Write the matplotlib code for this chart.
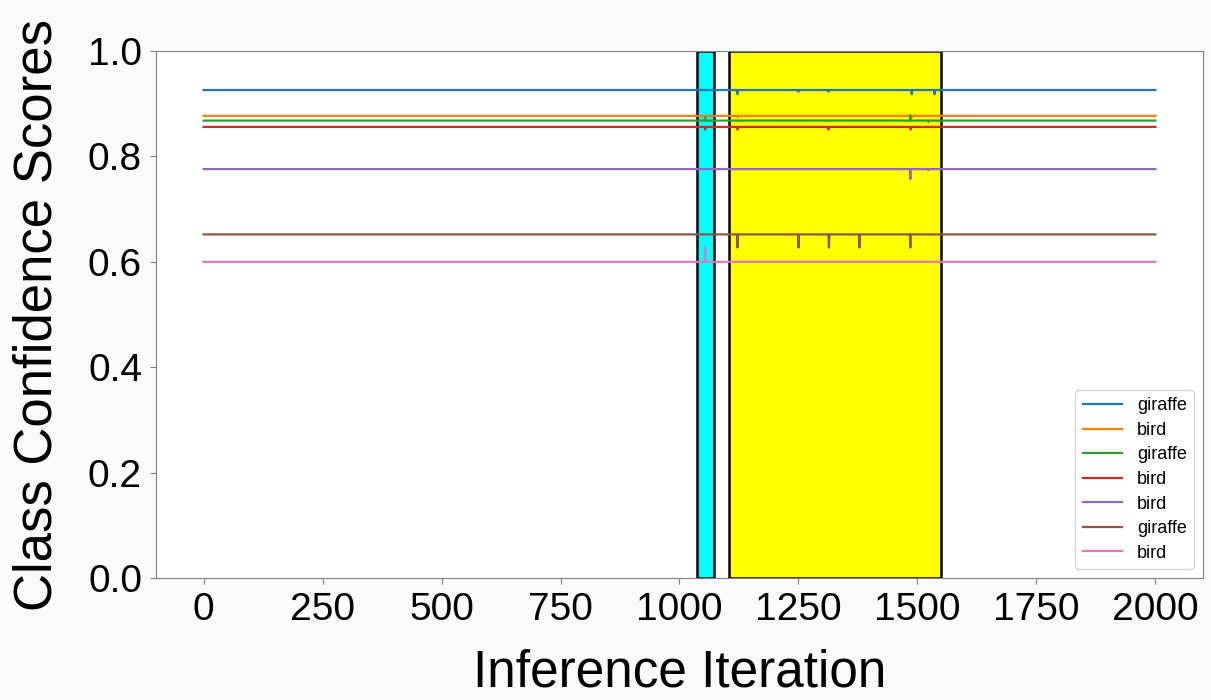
import matplotlib.pyplot as plt
import numpy as np

plt.rcParams['font.family'] = ['Liberation Sans', 'DejaVu Sans']

# Iterations
iterations = np.arange(0, 2001)

# Class labels of each tracked detection
labels = ["giraffe", "bird", "giraffe", "bird", "bird", "giraffe", "bird"]

# Steady confidence of each detection
base_scores = [0.926, 0.877, 0.868, 0.856, 0.776, 0.652, 0.600]

# Short glitches: (iteration, score)
glitches = [
    [(1122, 0.918), (1250, 0.923), (1313, 0.923), (1488, 0.918), (1536, 0.918)],
    [(1054, 0.874), (1122, 0.874), (1488, 0.874)],
    [(1054, 0.874), (1485, 0.878), (1523, 0.865)],
    [(1054, 0.851), (1122, 0.851), (1313, 0.851), (1486, 0.851)],
    [(1485, 0.757), (1523, 0.774)],
    [(1122, 0.627), (1250, 0.627), (1314, 0.627), (1378, 0.627), (1485, 0.627)],
    [(1054, 0.627)],
]

# Highlighted iteration windows
windows = [(1036, 1073, "cyan"), (1105, 1550, "yellow")]

fig = plt.figure(figsize=(12.11, 7.0), dpi=100, facecolor="#fafafa")
ax = fig.add_axes([0.1288, 0.1743, 0.8646, 0.7528])

for start, end, color in windows:
    ax.axvspan(start, end, ymin=0, ymax=1, facecolor=color, edgecolor="black",
               linewidth=1.8, zorder=1)

for i in range(len(labels)):
    scores = np.full(len(iterations), base_scores[i])
    for it, val in glitches[i]:
        scores[it] = val
    ax.plot(iterations, scores, label=labels[i], linewidth=1.6, zorder=2)

ax.set_ylim(0, 1.0)
ax.set_xlim(-100, 2100)
ax.set_xticks([0, 250, 500, 750, 1000, 1250, 1500, 1750, 2000])
ax.set_yticks([0.0, 0.2, 0.4, 0.6, 0.8, 1.0])
ax.tick_params(axis="both", labelsize=28, color="#808080", length=4, pad=6)
ax.set_xlabel("Inference Iteration", fontsize=37, labelpad=15)
ax.set_ylabel("Class Confidence Scores", fontsize=38, labelpad=18)
for s in ax.spines.values():
    s.set_color("#808080")

ax.legend(loc="lower right", fontsize=13, handlelength=2.2, labelspacing=0.42)

fig.savefig("out.png", dpi=100, facecolor=fig.get_facecolor())
